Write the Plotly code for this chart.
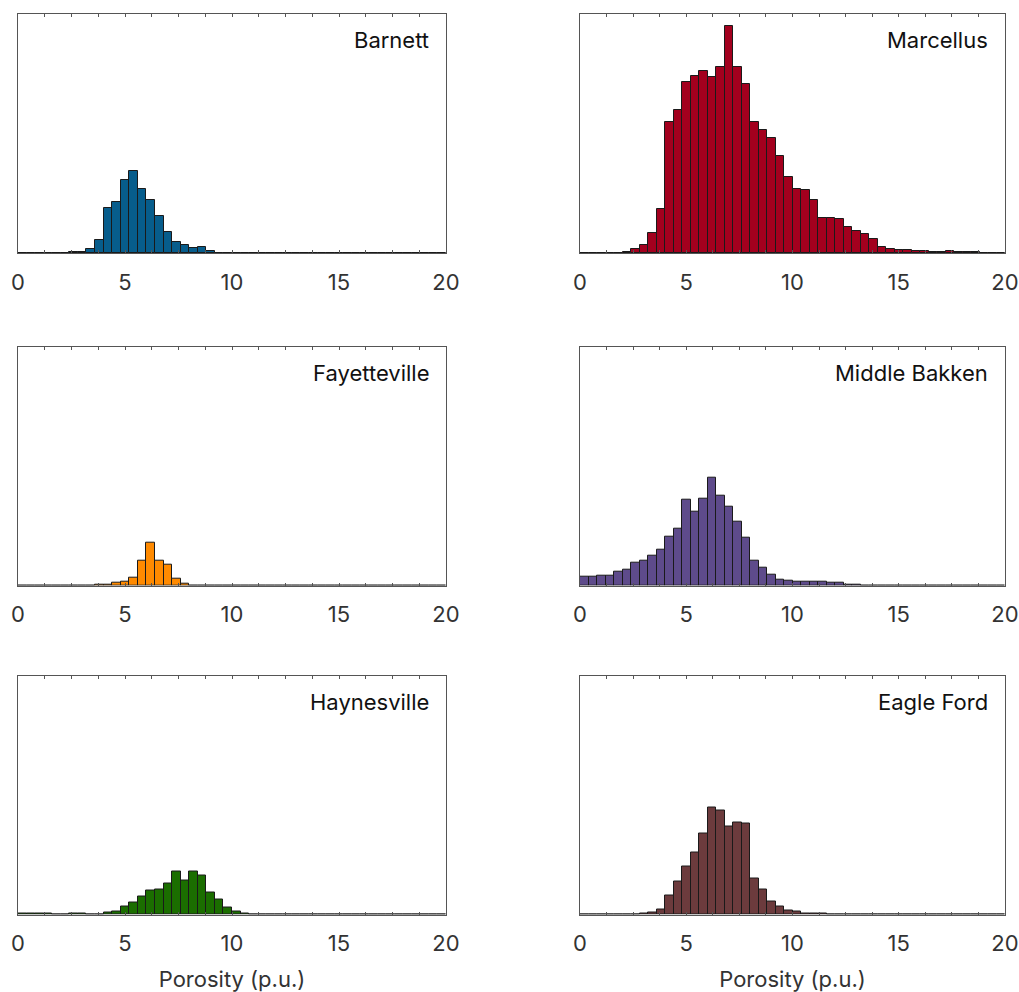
import plotly.graph_objects as go

# Porosity histograms, 50 bins of 0.4 p.u. spanning 0-20 p.u.
bin_width = 0.4
bin_centers = [round(0.2 + bin_width * i, 2) for i in range(50)]

barnett = [0, 0, 0.2, 0.3, 0.3, 0.5, 1, 1.7, 4.5, 13.2,
           45, 51, 73.7, 82, 64, 53.7, 37.7, 21, 11.3, 8,
           5.3, 6.7, 2, 0.7, 0.3, 0.2, 0, 0, 0, 0,
           0, 0, 0, 0, 0, 0, 0, 0, 0, 0,
           0, 0, 0, 0, 0, 0, 0, 0, 0, 0]

marcellus = [0, 0, 0, 0.3, 0.3, 1, 4, 8, 20, 44.5,
             131, 143, 171, 176.7, 181.7, 176, 185.7, 227.3, 186.3, 168.7,
             131, 123.3, 115.3, 97, 76.5, 64.7, 63.7, 53, 35.7, 35.5,
             34.2, 26.7, 22.7, 19.3, 14, 6, 4, 3.3, 3, 2.3,
             2, 1.7, 1.7, 2, 1.3, 1.3, 1, 0.7, 0.5, 0.5]

fayetteville = [0, 0, 0, 0, 0, 0, 0, 0, 0.2, 0.5,
                1, 2.7, 4.3, 8, 24.7, 43, 24.7, 21.3, 7.3, 2,
                0.3, 0, 0, 0, 0, 0, 0, 0, 0, 0,
                0, 0, 0, 0, 0, 0, 0, 0, 0, 0,
                0, 0, 0, 0, 0, 0, 0, 0, 0, 0]

middle_bakken = [9, 9.3, 10, 10, 13.7, 16, 22.7, 24.7, 30, 36,
                 49.3, 56.7, 86.3, 74, 86.7, 108, 89.7, 78.7, 63.7, 48.3,
                 24.7, 18, 11, 5.7, 4.7, 4, 4.3, 4, 3.7, 3,
                 2.7, 1.3, 0.6, 0, 0, 0, 0, 0, 0, 0,
                 0, 0, 0, 0, 0, 0, 0, 0, 0, 0]

haynesville = [1, 0.7, 0.7, 0.7, 0.5, 0.5, 0.7, 0.9, 0.5, 0.5,
               1.7, 3.3, 8, 11.7, 18, 24.3, 24.7, 31.3, 42.7, 34,
               43.3, 39, 21.7, 15.3, 7.3, 3, 1, 0.5, 0.4, 0.3,
               0.3, 0, 0, 0, 0, 0, 0, 0, 0, 0,
               0, 0, 0, 0, 0, 0, 0, 0, 0, 0]

eagle_ford = [0, 0, 0, 0, 0, 0.3, 0.5, 0.7, 1.7, 4.7,
              19, 33.3, 48.3, 62, 81, 107.3, 104, 88.3, 92.3, 90.7,
              36, 24.7, 12.7, 8.3, 4.3, 3, 1.3, 0.8, 0.6, 0.5,
              0.5, 0.4, 0.3, 0.3, 0.3, 0.2, 0, 0, 0, 0,
              0, 0, 0, 0, 0, 0, 0, 0, 0, 0]

plays = ["Barnett", "Marcellus", "Fayetteville", "Middle Bakken", "Haynesville", "Eagle Ford"]
series = [barnett, marcellus, fayetteville, middle_bakken, haynesville, eagle_ford]
colors = ["#075d8c", "#a3001e", "#ff8a00", "#5e4b8b", "#1b6e00", "#6c3b3d"]

tick_vals = [i * 1.25 for i in range(17)]
tick_text = [str(int(v)) if v % 5 == 0 else "" for v in tick_vals]
x_title = "Porosity (p.u.)"

W, H = 1019, 992
col_px = [(18, 446), (580, 1005)]
row_px = [(14, 253.3), (346.7, 585.5), (675.5, 914.5)]

fig = go.Figure()
font = "Inter, DejaVu Sans, sans-serif"

for i, (name, vals, color) in enumerate(zip(plays, series, colors)):
    r, c = divmod(i, 2)
    n = i + 1
    xa = "x" if n == 1 else f"x{n}"
    ya = "y" if n == 1 else f"y{n}"
    fig.add_trace(go.Bar(
        x=bin_centers, y=vals, width=bin_width,
        marker=dict(color=color, line=dict(color="#1a1a1a", width=1)),
        xaxis=xa, yaxis=ya, showlegend=False, name=name,
    ))
    x0, x1 = col_px[c]
    t, b = row_px[r]
    xkey = "xaxis" if n == 1 else f"xaxis{n}"
    ykey = "yaxis" if n == 1 else f"yaxis{n}"
    xaxis = dict(
        domain=[x0 / W, x1 / W], anchor=ya, range=[0, 20], automargin=False,
        tickvals=tick_vals, ticktext=tick_text, ticks="inside", ticklen=3,
        tickcolor="#555555", showline=True, linecolor="#555555", linewidth=1,
        mirror="ticks", showgrid=False, zeroline=False,
        tickfont=dict(family=font, size=22, color="#333333"),
        ticklabelstandoff=9,
    )
    if r == 2:
        xaxis["title"] = dict(text=x_title, font=dict(family=font, size=22, color="#333333"), standoff=19)
    fig.layout[xkey] = xaxis
    fig.layout[ykey] = dict(
        domain=[1 - b / H, 1 - t / H], anchor=xa, range=[0, 239], automargin=False,
        showticklabels=False, ticks="", showline=True, linecolor="#555555",
        linewidth=1, mirror=True, showgrid=False, zeroline=False,
    )
    fig.add_annotation(
        text=name, xref="paper", yref="paper",
        x=(x1 - 15) / W, y=1 - (t + 11) / H, xanchor="right", yanchor="top",
        showarrow=False, font=dict(family=font, size=22, color="#111111"),
    )

fig.update_layout(
    width=W, height=H, margin=dict(l=0, r=0, t=0, b=0),
    paper_bgcolor="white", plot_bgcolor="white", bargap=0,
)

fig.write_html("out.html")
